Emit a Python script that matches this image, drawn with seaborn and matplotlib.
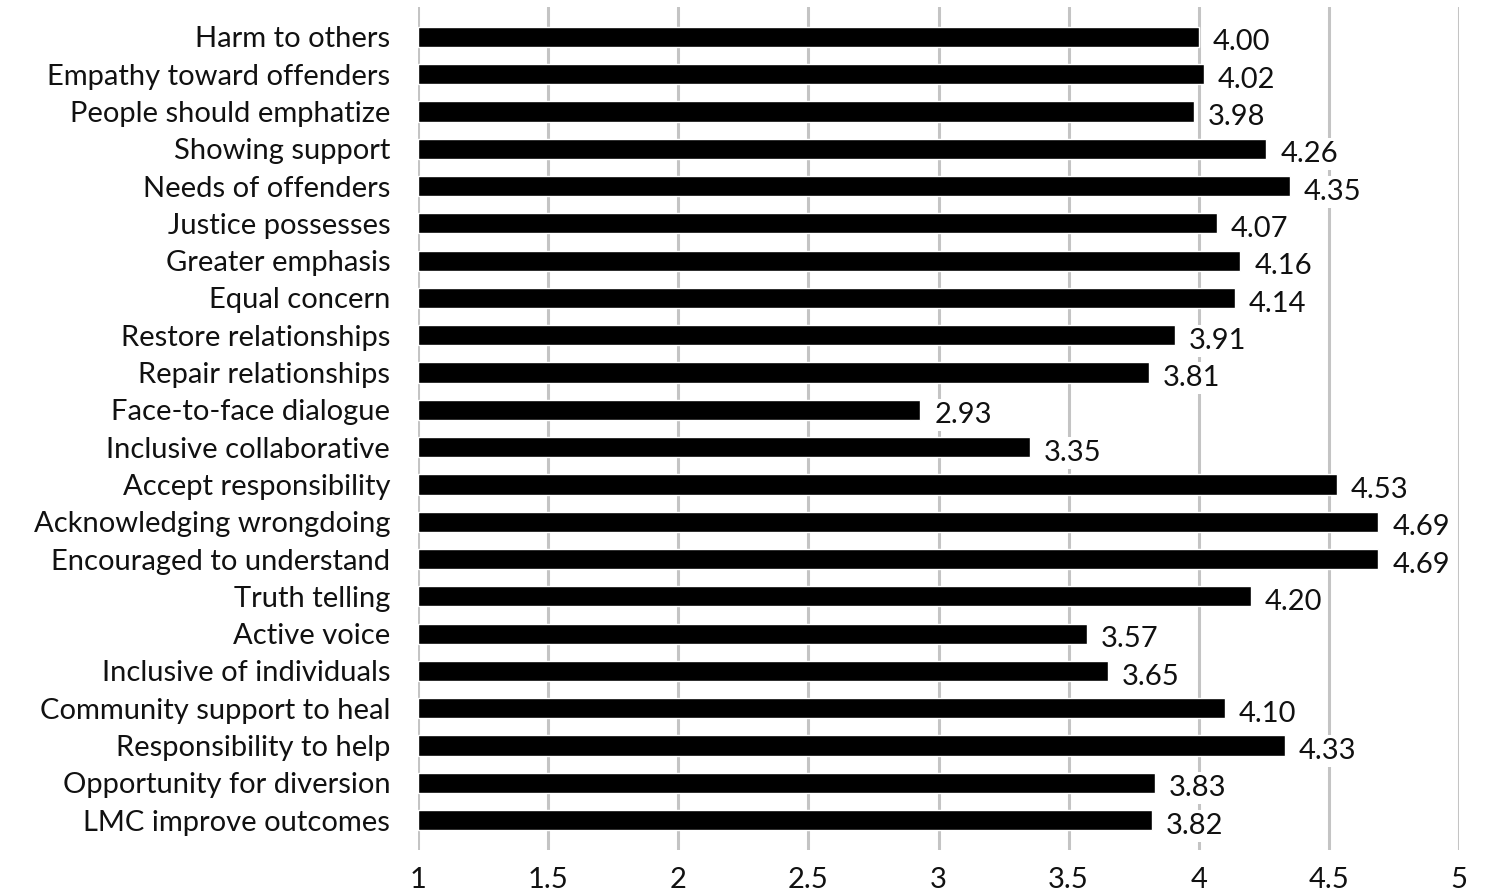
import matplotlib
matplotlib.use("Agg")
import matplotlib.pyplot as plt
import seaborn as sns
import pandas as pd

items = [
    "Harm to others", "Empathy toward offenders", "People should emphatize",
    "Showing support", "Needs of offenders", "Justice possesses",
    "Greater emphasis", "Equal concern", "Restore relationships",
    "Repair relationships", "Face-to-face dialogue", "Inclusive collaborative",
    "Accept responsibility", "Acknowledging wrongdoing", "Encouraged to understand",
    "Truth telling", "Active voice", "Inclusive of individuals",
    "Community support to heal", "Responsibility to help",
    "Opportunity for diversion", "LMC improve outcomes",
]
means = [4.00, 4.02, 3.98, 4.26, 4.35, 4.07, 4.16, 4.14, 3.91, 3.81, 2.93,
         3.35, 4.53, 4.69, 4.69, 4.20, 3.57, 3.65, 4.10, 4.33, 3.83, 3.82]
xticks = [1, 1.5, 2, 2.5, 3, 3.5, 4, 4.5, 5]
xtick_labels = ["1", "1.5", "2", "2.5", "3", "3.5", "4", "4.5", "5"]

sns.set_theme(style="white")
plt.rcParams["font.family"] = ["Lato", "DejaVu Sans"]

df = pd.DataFrame({"item": items, "mean": means})

fig = plt.figure(figsize=(14.92, 8.94), dpi=100)
ax = fig.add_axes([418 / 1492, 1 - 850 / 894, (1459 - 418) / 1492, (850 - 7) / 894])

# bars start at the axis origin of 1
df["span"] = df["mean"] - 1
sns.barplot(data=df, y="item", x="span", left=1, color="black", orient="h",
            width=0.54, ax=ax, saturation=1, zorder=3)

ax.set_xlim(1, 5)
ax.set_ylim(len(items) - 1 + 0.8, -0.8)
ax.set_xticks(xticks)
ax.set_xticklabels(xtick_labels, fontsize=21)
ax.set_xlabel("")
ax.set_ylabel("")
ax.tick_params(axis="y", labelsize=21, length=0, pad=20)
ax.tick_params(axis="x", length=0, pad=12)
for lbl in ax.get_yticklabels():
    lbl.set_color("#111111")
for lbl in ax.get_xticklabels():
    lbl.set_color("#111111")

for x in xticks:
    ax.axvline(x, color="#c4c4c4", lw=2.2, zorder=1)
for s in ax.spines.values():
    s.set_visible(False)

for i, v in enumerate(means):
    ax.annotate(f"{v:.2f}", xy=(v, i), xytext=(10, -4), textcoords="offset points",
                ha="left", va="center", fontsize=21, color="#111111", zorder=4,
                bbox=dict(boxstyle="square,pad=0.1", fc="white", ec="none"))

fig.savefig("out.png", dpi=100)
